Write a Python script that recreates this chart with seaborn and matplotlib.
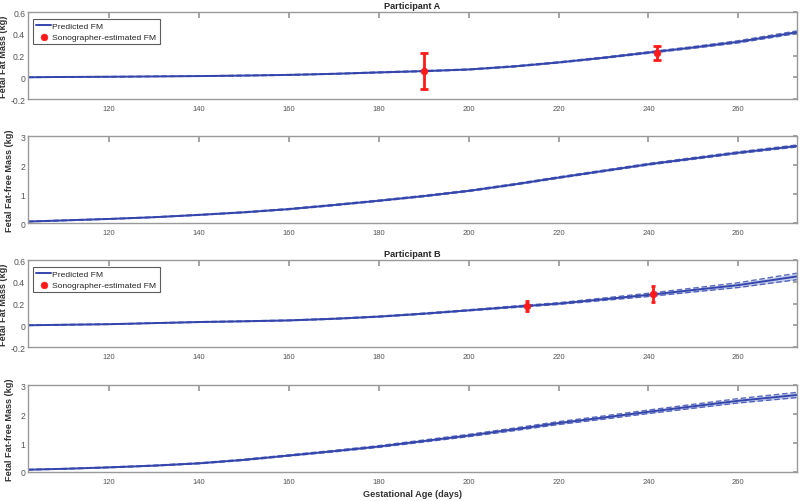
import matplotlib
matplotlib.use("Agg")
import matplotlib.pyplot as plt
import numpy as np
import pandas as pd
import seaborn as sns

days = [102, 110, 120, 130, 140, 150, 160, 170, 180, 190, 200, 210, 220, 230, 240, 250, 260, 273]

# Participant A
a_fm = [0.0, 0.003, 0.005, 0.008, 0.011, 0.016, 0.022, 0.032, 0.045, 0.057, 0.072, 0.10,
        0.137, 0.18, 0.228, 0.275, 0.327, 0.415]
a_fm_ci = [0.002, 0.002, 0.002, 0.002, 0.002, 0.003, 0.003, 0.003, 0.004, 0.004, 0.004, 0.005,
           0.005, 0.006, 0.007, 0.008, 0.010, 0.012]
a_ffm = [0.05, 0.09, 0.14, 0.20, 0.28, 0.37, 0.48, 0.62, 0.77, 0.93, 1.11, 1.33,
         1.57, 1.80, 2.03, 2.23, 2.43, 2.66]
a_ffm_ci = [0.01, 0.01, 0.01, 0.01, 0.012, 0.015, 0.018, 0.02, 0.02, 0.022, 0.022, 0.024,
            0.025, 0.026, 0.028, 0.03, 0.032, 0.035]
a_scan_days = [190, 242]
a_scan_fm = [0.06, 0.223]
a_scan_err = [0.165, 0.062]

# Participant B
b_fm = [0.0, 0.005, 0.01, 0.02, 0.03, 0.037, 0.045, 0.06, 0.08, 0.107, 0.138, 0.17,
        0.20, 0.24, 0.28, 0.325, 0.37, 0.45]
b_fm_ci = [0.002, 0.002, 0.002, 0.002, 0.003, 0.003, 0.003, 0.004, 0.004, 0.005, 0.005, 0.007,
           0.008, 0.011, 0.015, 0.018, 0.022, 0.03]
b_ffm = [0.08, 0.11, 0.16, 0.22, 0.30, 0.42, 0.57, 0.72, 0.88, 1.07, 1.26, 1.47,
         1.69, 1.88, 2.08, 2.27, 2.46, 2.66]
b_ffm_ci = [0.01, 0.01, 0.012, 0.014, 0.016, 0.02, 0.022, 0.026, 0.03, 0.035, 0.04, 0.045,
            0.05, 0.055, 0.06, 0.068, 0.075, 0.09]
b_scan_days = [213, 241]
b_scan_fm = [0.178, 0.287]
b_scan_err = [0.042, 0.075]

LINE = "#3446ac"
BAND = "#b3bce6"
RED = "#ff1a1a"
GREY = "#555555"
LABEL_FS = 6.6

sns.set_theme(style="white")
plt.rcParams["font.family"] = ["Liberation Sans", "DejaVu Sans"]
plt.rcParams.update({
    "xtick.direction": "in", "ytick.direction": "in",
    "xtick.top": True, "ytick.right": True,
    "xtick.major.size": 4, "ytick.major.size": 3,
    "xtick.color": "#999999", "ytick.color": "#999999",
    "xtick.labelcolor": GREY, "ytick.labelcolor": GREY,
    "xtick.labelsize": 5.5, "ytick.labelsize": 6.2,
    "axes.edgecolor": "#999999", "axes.linewidth": 1.0,
})

fig = plt.figure(figsize=(8.0, 5.02), dpi=100)
left, width, h = 0.035, 0.961, 0.173
bottoms = [1 - 100 / 502, 1 - 224 / 502, 1 - 348 / 502, 1 - 473 / 502]
axes = [fig.add_axes([left, b, width, h]) for b in bottoms]


def draw_curve(ax, y, ci, label=None):
    df = pd.DataFrame({"day": days, "y": y, "ci": ci})
    df["lo"] = df["y"] - df["ci"]
    df["hi"] = df["y"] + df["ci"]
    ax.fill_between(df["day"], df["lo"], df["hi"], color=BAND, alpha=0.7, lw=0)
    for col in ["lo", "hi"]:
        sns.lineplot(data=df, x="day", y=col, ax=ax, color=LINE, lw=1.0,
                     linestyle=(0, (4, 2)), alpha=0.8)
    sns.lineplot(data=df, x="day", y="y", ax=ax, color=LINE, lw=1.4, label=label)


def draw_scans(ax, sd, sv, se, cap):
    ax.errorbar(sd, sv, yerr=se, fmt="none", ecolor=RED, elinewidth=2.0,
                capsize=cap, capthick=2.0, zorder=5)
    sns.scatterplot(x=sd, y=sv, ax=ax, color=RED, s=24, edgecolor=RED,
                    label="Sonographer-estimated FM", zorder=6)


draw_curve(axes[0], a_fm, a_fm_ci, "Predicted FM")
draw_scans(axes[0], a_scan_days, a_scan_fm, a_scan_err, 3)
draw_curve(axes[1], a_ffm, a_ffm_ci)
draw_curve(axes[2], b_fm, b_fm_ci, "Predicted FM")
draw_scans(axes[2], b_scan_days, b_scan_fm, b_scan_err, 1.5)
draw_curve(axes[3], b_ffm, b_ffm_ci)

for i, ax in enumerate(axes):
    ax.set_xlim(102, 273)
    ax.set_xticks([120, 140, 160, 180, 200, 220, 240, 260])
    ax.set_xlabel("")
    if i in (0, 2):
        ax.set_ylim(-0.2, 0.6)
        ax.set_yticks([-0.2, 0, 0.2, 0.4, 0.6])
        ax.set_yticklabels(["-0.2", "0", "0.2", "0.4", "0.6"])
        ax.set_ylabel("Fetal Fat Mass (kg)", fontsize=LABEL_FS, fontweight="bold",
                      color="#333333")
        ax.yaxis.set_label_coords(-20 / 769, 0.5)
        leg = ax.legend(loc="upper left", fontsize=6.1, frameon=True, fancybox=False,
                        edgecolor="#333333", borderpad=0.35, handlelength=1.8,
                        handletextpad=0.15, labelspacing=0.35, borderaxespad=0,
                        bbox_to_anchor=(5 / 769, 0.92))
        leg.get_frame().set_linewidth(0.8)
    else:
        ax.set_ylim(0, 3)
        ax.set_yticks([0, 1, 2, 3])
        ax.set_ylabel("Fetal Fat-free Mass (kg)", fontsize=LABEL_FS, fontweight="bold",
                      color="#333333")
        ax.yaxis.set_label_coords(-14 / 769, 0.5)
        if ax.get_legend() is not None:
            ax.get_legend().remove()
    ax.tick_params(axis="x", pad=4)
    ax.tick_params(axis="y", pad=2)

axes[0].set_title("Participant A", fontsize=LABEL_FS, fontweight="bold", pad=3)
axes[2].set_title("Participant B", fontsize=LABEL_FS, fontweight="bold", pad=3)
axes[3].set_xlabel("Gestational Age (days)", fontsize=LABEL_FS, fontweight="bold",
                   color="#333333", labelpad=3)

fig.savefig("out.png", dpi=100)
